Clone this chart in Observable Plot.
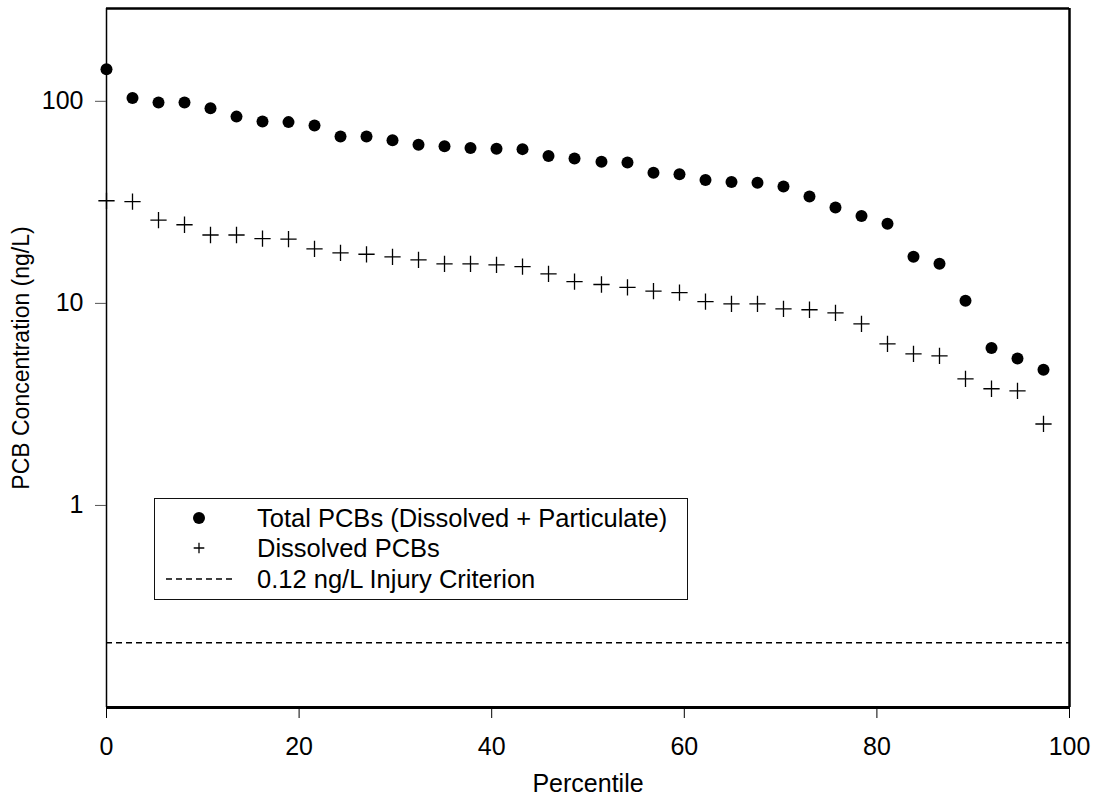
<!DOCTYPE html>
<html>
<head>
<meta charset="utf-8">
<script src="https://cdn.jsdelivr.net/npm/d3@7"></script>
<script src="https://cdn.jsdelivr.net/npm/@observablehq/plot@0.6"></script>
<style>
  html, body { margin: 0; padding: 0; background: #fff; }
  #wrap { position: relative; width: 1095px; height: 800px; font-family: "Liberation Sans", Arial, Helvetica, sans-serif; color: #000; }
  #legend { position: absolute; left: 154px; top: 498px; width: 534px; height: 102px; box-sizing: border-box;
            border: 1.5px solid #111; background: #fff; }
  .row { position: absolute; left: 0; height: 30px; width: 100%; }
  .row svg { position: absolute; left: 10px; top: 0; }
  .row span { position: absolute; left: 102px; top: 0; line-height: 30px; font-size: 25.5px; white-space: nowrap; }
</style>
</head>
<body>
<div id="wrap"></div>
<script>
// ---- data ----
const percentile = [0, 2.7, 5.4, 8.1, 10.8, 13.5, 16.2, 18.9, 21.6, 24.3, 27.0, 29.7, 32.4, 35.1, 37.8, 40.5, 43.2, 45.9, 48.6,
  51.4, 54.1, 56.8, 59.5, 62.2, 64.9, 67.6, 70.3, 73.0, 75.7, 78.4, 81.1, 83.8, 86.5, 89.2, 91.9, 94.6, 97.3];
const totalPCB = [144, 104, 98.6, 98.6, 92.5, 84, 79.4, 78.9, 75.9, 66.9, 66.9, 64.1, 60.9, 60.0, 58.7, 58.2, 58.0, 53.7, 52.1,
  50.2, 49.8, 44.3, 43.6, 40.8, 39.9, 39.5, 37.9, 33.8, 29.8, 27.1, 24.8, 17.0, 15.7, 10.3, 6.02, 5.33, 4.69];
const dissolvedPCB = [32.2, 31.9, 25.8, 24.5, 21.8, 21.8, 20.9, 20.8, 18.6, 17.8, 17.5, 17.0, 16.4, 15.7, 15.7, 15.5, 15.2, 14.0, 12.8,
  12.4, 12.0, 11.5, 11.3, 10.2, 9.95, 9.95, 9.39, 9.3, 8.97, 7.92, 6.30, 5.62, 5.50, 4.23, 3.78, 3.69, 2.53];
const criterionLine = [0.209];            // dashed line as drawn in the reference
const xTicks = [0, 20, 40, 60, 80, 100];
const yTicks = [1, 10, 100];
const xDomain = [0, 100];
const yDomain = [0.1, 288];
const xTitle = "Percentile";
const yTitle = "PCB Concentration (ng/L)";
const legendLabels = ["Total PCBs (Dissolved + Particulate)", "Dissolved PCBs", "0.12 ng/L Injury Criterion"];

const rows = percentile.map((p, i) => ({p, total: totalPCB[i], dissolved: dissolvedPCB[i]}));
const font = '"Liberation Sans", Arial, Helvetica, sans-serif';

const chart = Plot.plot({
  width: 1095,
  height: 800,
  marginLeft: 106,
  marginRight: 26,
  marginTop: 8,
  marginBottom: 93,
  style: {fontFamily: font, fontSize: "25px", color: "#000", background: "#fff", overflow: "visible"},
  x: {domain: xDomain},
  y: {type: "log", domain: yDomain},
  marks: [
    Plot.ruleY(criterionLine, {stroke: "#000", strokeWidth: 1.5, strokeDasharray: "6,4"}),
    Plot.dot(rows, {x: "p", y: "total", r: 6, fill: "#000", stroke: "none"}),
    Plot.dot(rows, {x: "p", y: "dissolved", symbol: "plus", r: 5.3, stroke: "#000", strokeWidth: 1.3}),
    Plot.ruleX([xDomain[0]], {stroke: "#000", strokeWidth: 1.5}),
    Plot.ruleX([xDomain[1]], {stroke: "#000", strokeWidth: 2.5}),
    Plot.ruleY([yDomain[1]], {stroke: "#000", strokeWidth: 2.5}),
    Plot.ruleY([yDomain[0]], {stroke: "#000", strokeWidth: 3}),
    Plot.axisX({ticks: xTicks, tickSize: 11, tickPadding: 19, label: null, fontSize: 25, strokeWidth: 1}),
    Plot.axisY({ticks: yTicks, tickSize: 11, tickPadding: 12, tickFormat: d => String(d), label: null, fontSize: 25, stroke: "#555", strokeWidth: 1}),
    Plot.text([xTitle], {frameAnchor: "bottom", dy: 76, fontSize: 25, textAnchor: "middle", lineAnchor: "middle"}),
    Plot.text([yTitle], {frameAnchor: "left", dx: -85, rotate: -90, fontSize: 23, textAnchor: "middle", lineAnchor: "middle"})
  ]
});

const wrap = document.getElementById("wrap");
wrap.appendChild(chart);

// legend inside the plot area
const legend = document.createElement("div");
legend.id = "legend";
const symbols = [
  '<circle cx="34" cy="15" r="6" fill="#000"/>',
  '<path d="M28.7,15H39.3M34,9.7V20.3" stroke="#000" stroke-width="1.3" fill="none"/>',
  '<line x1="1" y1="15" x2="67" y2="15" stroke="#000" stroke-width="1.5" stroke-dasharray="6,4"/>'
];
const rowTops = [4, 34, 64.5];
legendLabels.forEach((lab, i) => {
  const r = document.createElement("div");
  r.className = "row";
  r.style.top = rowTops[i] + "px";
  r.innerHTML = `<svg width="70" height="30">${symbols[i]}</svg><span>${lab}</span>`;
  legend.appendChild(r);
});
wrap.appendChild(legend);
</script>
</body>
</html>
